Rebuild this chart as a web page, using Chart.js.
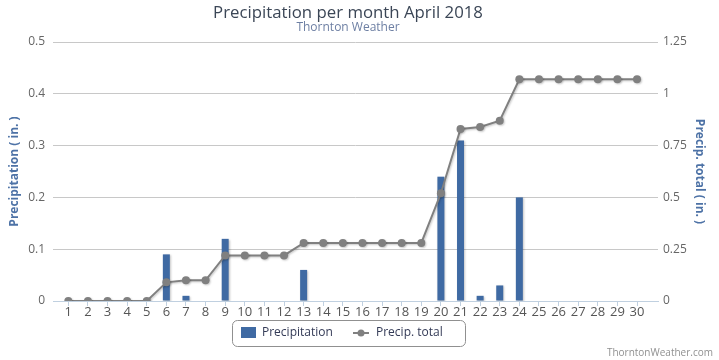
<!DOCTYPE html>
<html>
<head>
<meta charset="utf-8">
<title>Precipitation per month April 2018</title>
<script src="https://cdn.jsdelivr.net/npm/chart.js@4/dist/chart.umd.min.js"></script>
<style>
  html, body { margin: 0; padding: 0; background: #fff; }
  #wrap { position: relative; width: 719px; height: 360px; }
</style>
</head>
<body>
<div id="wrap"><canvas id="chart" width="719" height="360"></canvas></div>
<script>
// Datos (pulgadas)
const days = [1, 2, 3, 4, 5, 6, 7, 8, 9, 10, 11, 12, 13, 14, 15,
  16, 17, 18, 19, 20, 21, 22, 23, 24, 25, 26, 27, 28, 29, 30];
const precip = [0, 0, 0, 0, 0, 0.09, 0.01, 0, 0.12, 0, 0, 0, 0.06, 0, 0,
  0, 0, 0, 0, 0.24, 0.31, 0.01, 0.03, 0.2, 0, 0, 0, 0, 0, 0];
const precipTotal = [0, 0, 0, 0, 0, 0.09, 0.10, 0.10, 0.22, 0.22, 0.22, 0.22, 0.28, 0.28, 0.28,
  0.28, 0.28, 0.28, 0.28, 0.52, 0.83, 0.84, 0.87, 1.07, 1.07, 1.07, 1.07, 1.07, 1.07, 1.07];
const seriesNames = ['Precipitation', 'Precip. total'];
const titleText = 'Precipitation per month April 2018';
const subtitleText = 'Thornton Weather';
const creditText = 'ThorntonWeather.com';

const FONT = '"Open Sans", "Noto Sans", sans-serif';
const BAR_COLOR = '#3f6aa3';
const LINE_COLOR = '#808080';

// 0.25 -> "0.25", 1 -> "1"
const fmt = v => String(parseFloat(Number(v).toFixed(2)));

/**
 * Sombra suave para barras y línea (como el original)
 */
const shadowPlugin = {
  id: 'shadow',
  beforeDatasetDraw(chart) {
    const ctx = chart.ctx;
    ctx.save();
    ctx.shadowColor = 'rgba(0,0,0,0.22)';
    ctx.shadowOffsetX = 1;
    ctx.shadowOffsetY = 1;
    ctx.shadowBlur = 2;
  },
  afterDatasetDraw(chart) {
    chart.ctx.restore();
  }
};

/**
 * Título, subtítulo, leyenda con marco y créditos
 */
const decorPlugin = {
  id: 'decor',
  afterDraw(chart) {
    const ctx = chart.ctx;
    ctx.save();
    ctx.textAlign = 'center';
    ctx.textBaseline = 'middle';

    ctx.fillStyle = '#3b4656';
    ctx.font = `16.8px ${FONT}`;
    ctx.fillText(titleText, 348, 13);

    ctx.fillStyle = '#6d7fa3';
    ctx.font = `12px ${FONT}`;
    ctx.fillText(subtitleText, 348, 28);

    // marco de la leyenda
    ctx.strokeStyle = '#909090';
    ctx.lineWidth = 1;
    ctx.beginPath();
    ctx.roundRect(232.5, 320.5, 233, 26, 5);
    ctx.stroke();

    ctx.fillStyle = BAR_COLOR;
    ctx.fillRect(241, 327, 15, 11);

    ctx.strokeStyle = LINE_COLOR;
    ctx.lineWidth = 2;
    ctx.beginPath();
    ctx.moveTo(353, 333);
    ctx.lineTo(369, 333);
    ctx.stroke();
    ctx.fillStyle = LINE_COLOR;
    ctx.beginPath();
    ctx.arc(361, 333, 3.5, 0, Math.PI * 2);
    ctx.fill();

    ctx.textAlign = 'left';
    ctx.fillStyle = '#333a56';
    ctx.font = `12px ${FONT}`;
    ctx.fillText(chart.data.datasets[0].label, 262, 333);
    ctx.fillText(chart.data.datasets[1].label, 376, 333);

    ctx.textAlign = 'right';
    ctx.fillStyle = '#909090';
    ctx.font = `10px ${FONT}`;
    ctx.fillText(creditText, 713, 353);
    ctx.restore();
  }
};

new Chart(document.getElementById('chart'), {
  type: 'bar',
  data: {
    datasets: [
      {
        type: 'bar',
        label: seriesNames[0],
        data: precip.map((v, i) => ({ x: days[i], y: v })),
        backgroundColor: BAR_COLOR,
        barThickness: 7,
        borderWidth: 0,
        inflateAmount: 0,
        yAxisID: 'y',
        order: 1
      },
      {
        type: 'line',
        label: seriesNames[1],
        data: precipTotal.map((v, i) => ({ x: days[i], y: v })),
        borderColor: LINE_COLOR,
        borderWidth: 2,
        pointRadius: 4,
        pointBackgroundColor: LINE_COLOR,
        pointBorderWidth: 0,
        tension: 0,
        yAxisID: 'y1',
        order: 0
      }
    ]
  },
  options: {
    responsive: false,
    animation: false,
    layout: { padding: { top: 42, bottom: 39, left: 0, right: 0 } },
    plugins: {
      legend: { display: false },
      tooltip: { enabled: false }
    },
    scales: {
      x: {
        type: 'linear',
        offset: false,
        min: 0.22,
        max: 31.07,
        afterBuildTicks: s => { s.ticks = days.map(v => ({ value: v })); },
        afterFit: s => { s.height = 20; },
        ticks: { color: '#555', padding: -2, font: { family: FONT, size: 13 }, maxRotation: 0, autoSkip: false },
        grid: { offset: false, drawOnChartArea: false, drawTicks: true, tickLength: 5, color: '#c0d0e0' },
        border: { color: '#c0d0e0' }
      },
      y: {
        position: 'left',
        min: 0,
        max: 0.5,
        afterFit: s => { s.width = 53; },
        ticks: { stepSize: 0.1, color: '#666', padding: 8, font: { family: FONT, size: 12 }, callback: fmt },
        grid: {
          drawTicks: false,
          color: c => (c.tick && c.tick.value === 0 ? 'rgba(0,0,0,0)' : '#c8c8c8')
        },
        border: { display: false },
        title: {
          display: true,
          text: 'Precipitation ( in. )',
          color: '#4d72a6',
          font: { family: FONT, size: 12, weight: 'bold' },
          padding: { top: 7 }
        }
      },
      y1: {
        position: 'right',
        min: 0,
        max: 1.25,
        afterFit: s => { s.width = 61; },
        ticks: { stepSize: 0.25, color: '#666', padding: 5, font: { family: FONT, size: 12 }, callback: fmt },
        grid: { drawOnChartArea: false, drawTicks: false },
        border: { display: false },
        title: {
          display: true,
          text: 'Precip. total ( in. )',
          color: '#4d72a6',
          font: { family: FONT, size: 12, weight: 'bold' },
          padding: { top: 12 }
        }
      }
    }
  },
  plugins: [shadowPlugin, decorPlugin]
});
</script>
</body>
</html>
